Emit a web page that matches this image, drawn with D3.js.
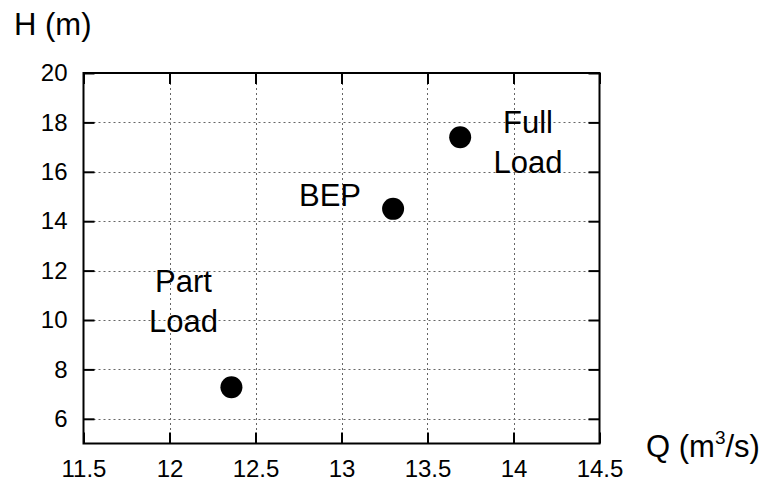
<!DOCTYPE html>
<html><head><meta charset="utf-8">
<script src="https://cdn.jsdelivr.net/npm/d3@7"></script>
<style>body{margin:0;background:#fff}svg{display:block;font-family:"Liberation Sans",Arial,sans-serif}</style>
</head><body><svg id="c" width="771" height="484"></svg>
<script>
const names = ["Part Load", "BEP", "Full Load"];
const qValues = [12.36, 13.30, 13.69];
const hValues = [7.28, 14.5, 17.4];
const xTicks = [11.5, 12, 12.5, 13, 13.5, 14, 14.5];
const yTicks = [6, 8, 10, 12, 14, 16, 18, 20];
const labelLines = [["Part", "Load"], ["BEP"], ["Full", "Load"]];

const svg = d3.select("#c");
const L = 83.5, R = 599.5, T = 73, B = 443.5;
const x = d3.scaleLinear().domain([11.5, 14.5]).range([L, R]);
const y = d3.scaleLinear().domain([5, 20]).range([B, T]);

// grid
const grid = svg.append("g").attr("stroke", "#666").attr("stroke-width", 1).attr("stroke-dasharray", "2,3");
grid.selectAll("line.v").data(xTicks.slice(1, -1)).join("line")
  .attr("x1", d => Math.round(x(d)) + 0.5).attr("x2", d => Math.round(x(d)) + 0.5).attr("y1", T).attr("y2", B);
grid.selectAll("line.h").data(yTicks.slice(0, -1)).join("line")
  .attr("y1", d => Math.round(y(d)) + 0.5).attr("y2", d => Math.round(y(d)) + 0.5).attr("x1", L).attr("x2", R);

const fs = 24;
function styleAxis(g){ g.select(".domain").remove(); g.selectAll(".tick line").attr("stroke","#000").attr("stroke-width",2); g.selectAll("text").attr("font-size",fs).attr("fill","#000").attr("font-family","Liberation Sans, Arial, sans-serif"); }

svg.append("g").attr("transform", `translate(0,${B})`)
  .call(d3.axisBottom(x).tickValues(xTicks).tickFormat(d3.format("")).tickSizeInner(-11).tickPadding(16.5))
  .call(styleAxis);
svg.append("g").attr("transform", `translate(0,${T})`)
  .call(d3.axisTop(x).tickValues(xTicks).tickFormat("").tickSizeInner(-11))
  .call(styleAxis);
svg.append("g").attr("transform", `translate(${L},0)`)
  .call(d3.axisLeft(y).tickValues(yTicks).tickFormat(d3.format("")).tickSizeInner(-11).tickPadding(16))
  .call(styleAxis);
svg.append("g").attr("transform", `translate(${R},0)`)
  .call(d3.axisRight(y).tickValues(yTicks).tickFormat("").tickSizeInner(-11))
  .call(styleAxis);

// frame
svg.append("rect").attr("x", L).attr("y", T).attr("width", R - L).attr("height", B - T)
  .attr("fill", "none").attr("stroke", "#000").attr("stroke-width", 2);

// points
svg.selectAll("circle.pt").data(qValues).join("circle")
  .attr("cx", (d) => x(d)).attr("cy", (d, i) => y(hValues[i])).attr("r", 11).attr("fill", "#000");

// point labels
const labelPos = [{dx: 12.081, dy: 11.13}, {dx: 12.933, dy: 14.62}, {dx: 14.084, dy: 17.57}];
const lab = svg.append("g").attr("font-size", 31).attr("text-anchor", "middle").attr("fill", "#000");
labelLines.forEach((lines, i) => {
  const t = lab.append("text").attr("x", x(labelPos[i].dx)).attr("y", y(labelPos[i].dy));
  lines.forEach((ln, j) => t.append("tspan").attr("x", x(labelPos[i].dx)).attr("dy", j === 0 ? 0 : 40).text(ln));
});

// axis titles
svg.append("text").attr("x", 14).attr("y", 35).attr("font-size", 31).text("H (m)");
const q = svg.append("text").attr("x", 646).attr("y", 457).attr("font-size", 31);
q.append("tspan").text("Q (m");
q.append("tspan").attr("font-size", 19).attr("dy", -13).text("3");
q.append("tspan").attr("dy", 13).text("/s)");
</script></body></html>
